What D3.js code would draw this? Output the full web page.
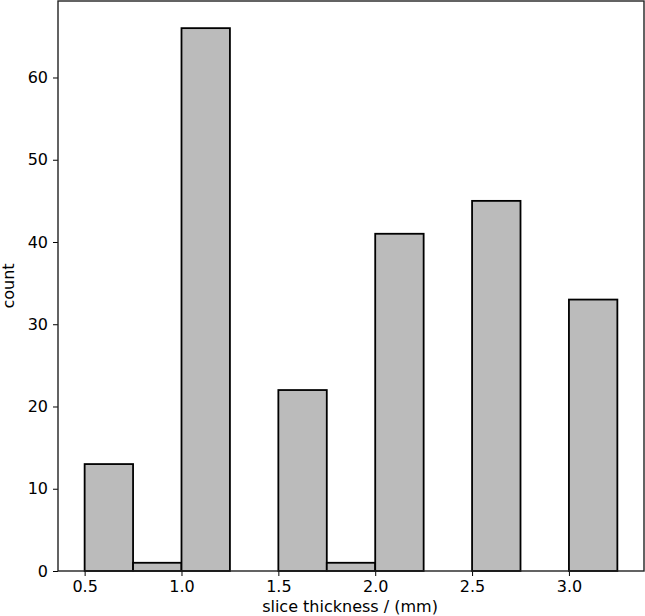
<!DOCTYPE html>
<html><head><meta charset="utf-8">
<script src="https://cdn.jsdelivr.net/npm/d3@7"></script>
<style>body{margin:0;background:#fff}svg{display:block}text{font-family:"DejaVu Sans",sans-serif}</style>
</head><body>
<script>
const binStarts = [0.5,0.75,1.0,1.25,1.5,1.75,2.0,2.25,2.5,2.75,3.0];
const counts    = [13, 1, 66, 0, 22, 1, 41, 0, 45, 0, 33];
const binWidth = 0.25;
const xTicks = [0.5,1.0,1.5,2.0,2.5,3.0];
const yTicks = [0,10,20,30,40,50,60];

const W=645,H=616, L=58, R=644, T=1, B=571;
const svg=d3.select("body").append("svg").attr("width",W).attr("height",H);
const x=d3.scaleLinear().domain([0.3625,3.3875]).range([L,R]);
const y=d3.scaleLinear().domain([0,69.3]).range([B,T]);

svg.append("g").selectAll("rect").data(binStarts.map((s,i)=>({s,c:counts[i]})).filter(d=>d.c>0))
 .join("rect").attr("x",d=>x(d.s)).attr("width",d=>x(d.s+binWidth)-x(d.s))
 .attr("y",d=>y(d.c)).attr("height",d=>y(0)-y(d.c))
 .attr("fill","#bbbbbb").attr("stroke","#000").attr("stroke-width",1.8);

const xa=svg.append("g").attr("transform",`translate(0,${B})`)
 .call(d3.axisBottom(x).tickValues(xTicks).tickFormat(d3.format(".1f")).tickSize(5).tickPadding(5));
const ya=svg.append("g").attr("transform",`translate(${L},0)`)
 .call(d3.axisLeft(y).tickValues(yTicks).tickSize(5).tickPadding(5));
[xa,ya].forEach(a=>{a.select(".domain").remove();a.selectAll("text").attr("font-size",16).attr("fill","#000");a.selectAll("line").attr("stroke","#000").attr("stroke-width",1);});

svg.append("rect").attr("x",L).attr("y",T).attr("width",R-L).attr("height",B-T)
 .attr("fill","none").attr("stroke","#222").attr("stroke-width",1.4);

svg.append("text").attr("x",(L+R)/2 - 1).attr("y",612).attr("text-anchor","middle").attr("font-size",16).text("slice thickness / (mm)");
svg.append("text").attr("transform",`translate(14,${(T+B)/2}) rotate(-90)`).attr("text-anchor","middle").attr("font-size",16).text("count");
</script>
</body></html>
